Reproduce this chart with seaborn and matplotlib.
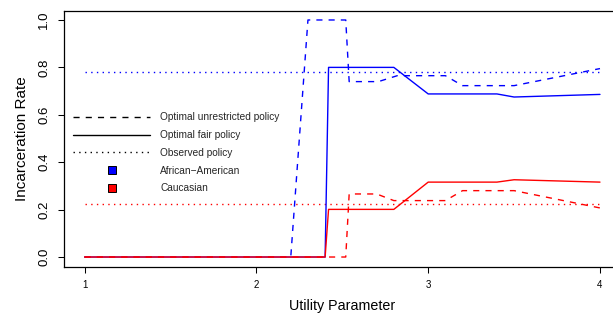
import matplotlib
matplotlib.use("Agg")
import numpy as np
import pandas as pd
import seaborn as sns
import matplotlib.pyplot as plt
from matplotlib.lines import Line2D

# ---- data ----
x_fair = [1.0, 2.40, 2.42, 2.80, 3.00, 3.40, 3.50, 4.00]
aa_fair = [0.0, 0.0, 0.800, 0.800, 0.688, 0.688, 0.675, 0.686]
ca_fair = [0.0, 0.0, 0.201, 0.201, 0.316, 0.316, 0.326, 0.316]

x_aa_unres = [1.0, 2.20, 2.30, 2.52, 2.54, 2.71, 2.82, 3.10, 3.20, 3.50, 4.00]
aa_unres = [0.0, 0.0, 1.0, 1.0, 0.740, 0.740, 0.765, 0.765, 0.723, 0.723, 0.795]

x_ca_unres = [1.0, 2.52, 2.54, 2.70, 2.80, 3.10, 3.20, 3.50, 4.00]
ca_unres = [0.0, 0.0, 0.266, 0.266, 0.238, 0.238, 0.280, 0.280, 0.207]

x_obs = [1.0, 4.0]
aa_obs = [0.782, 0.782]
ca_obs = [0.222, 0.222]

x_ticks = [1, 2, 3, 4]
y_ticks = [0.0, 0.2, 0.4, 0.6, 0.8, 1.0]
legend_labels = ["Optimal unrestricted policy", "Optimal fair policy",
                 "Observed policy", "African\u2212American", "Caucasian"]

BLUE = "#0000FF"
RED = "#FF0000"

sns.set_theme(style="white")
plt.rcParams["font.family"] = ["Liberation Sans", "DejaVu Sans"]

W, H = 613, 316
fig = plt.figure(figsize=(W / 100, H / 100), dpi=100)
left = 64 / W
right = 620.6 / W
bottom = (H - 266.5) / H
top = (H - 10.5) / H
ax = fig.add_axes([left, bottom, right - left, top - bottom])

lw = 1.0
dash = (0, (4.4, 4.4))
dot = (0, (1.0, 3.1))

def draw(x, y, color, ls):
    df = pd.DataFrame({"x": x, "y": y})
    sns.lineplot(data=df, x="x", y="y", ax=ax, color=color, linewidth=lw,
                 linestyle=ls, estimator=None, sort=False)

draw(x_obs, aa_obs, BLUE, dot)
draw(x_obs, ca_obs, RED, dot)
draw(x_aa_unres, aa_unres, BLUE, dash)
draw(x_fair, aa_fair, BLUE, "-")
draw(x_ca_unres, ca_unres, RED, dash)
draw(x_fair, ca_fair, RED, "-")

ax.set_xlim(0.88, 4.12)
ax.set_ylim(-0.04, 1.04)
ax.set_xticks(x_ticks)
ax.set_xticklabels([str(t) for t in x_ticks], fontsize=7)
ax.set_yticks(y_ticks)
ax.set_yticklabels([f"{t:.1f}" for t in y_ticks], fontsize=9.5, rotation=90,
                   va="center")
ax.tick_params(axis="both", direction="out", length=4.5, width=0.75,
               color="black", labelcolor="black", left=True, bottom=True)
ax.tick_params(axis="x", pad=5.5)
ax.tick_params(axis="y", pad=5.5)
for s in ax.spines.values():
    s.set_visible(True)
    s.set_color("black")
    s.set_linewidth(0.9)

ax.set_xlabel("Utility Parameter", fontsize=10.3, labelpad=6, color="black")
ax.set_ylabel("Incarceration Rate", fontsize=11, labelpad=6.5, color="black")

handles = [
    Line2D([], [], color="black", lw=lw, linestyle=dash),
    Line2D([], [], color="black", lw=lw, linestyle="-"),
    Line2D([], [], color="black", lw=lw, linestyle=dot),
    Line2D([], [], color="none", marker="s", markersize=6,
           markerfacecolor=BLUE, markeredgecolor="black", markeredgewidth=0.7),
    Line2D([], [], color="none", marker="s", markersize=6,
           markerfacecolor=RED, markeredgecolor="black", markeredgewidth=0.7),
]
fig.legend(handles, legend_labels, loc="upper left",
           bbox_to_anchor=(73 / W, (H - 112.5) / H), frameon=False,
           fontsize=7.3, handlelength=7.6, handletextpad=1.0,
           labelspacing=0.76, borderpad=0, borderaxespad=0)

fig.savefig("out.png", dpi=100)
